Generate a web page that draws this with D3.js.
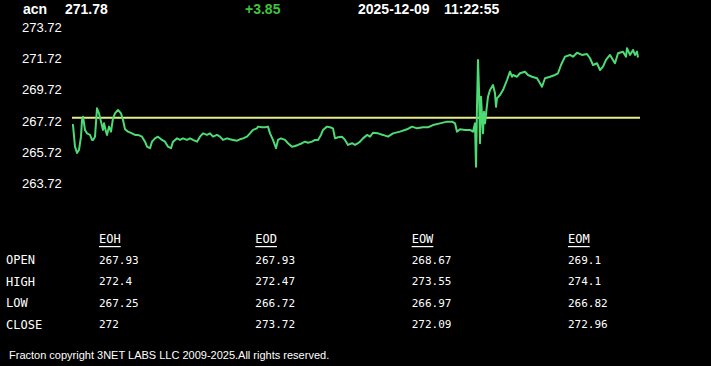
<!DOCTYPE html>
<html>
<head>
<meta charset="utf-8">
<script src="https://cdn.jsdelivr.net/npm/d3@7"></script>
<style>
  html, body { margin: 0; padding: 0; background: #000; }
  svg { display: block; }
</style>
</head>
<body>
<div id="chart"></div>
<script>
// header
var symbol = "acn";
var lastPrice = 271.78;
var change = "+3.85";
var stamp = ["2025-12-09", "11:22:55"];
var prevClose = 267.93;

// y axis tick labels
var yTicks = [273.72, 271.72, 269.72, 267.72, 265.72, 263.72];

// intraday series (sample index, price)
var tIdx = [0, 1, 3, 5, 7, 9, 10, 11, 13, 15, 18, 20, 21, 23, 25, 27, 29, 31, 32, 34, 35, 37, 39, 41,
  43, 46, 49, 51, 53, 56, 60, 63, 66, 70, 73, 75, 78, 80, 83, 86, 90, 93, 96, 99, 101, 105, 108,
  111, 115, 118, 121, 125, 128, 131, 135, 138, 141, 145, 148, 151, 155, 158, 161, 165, 168, 171,
  175, 178, 181, 185, 186, 190, 193, 196, 198, 201, 204, 206, 209, 213, 216, 220, 223, 226, 230,
  233, 236, 240, 243, 246, 249, 251, 255, 258, 261, 263, 266, 270, 273, 276, 280, 283, 286, 288,
  291, 295, 298, 301, 306, 311, 316, 321, 328, 335, 340, 345, 351, 356, 361, 368, 375, 380, 383,
  385, 388, 393, 398, 401, 403, 404, 405, 406, 407, 408, 409, 411, 412, 413, 415, 416, 418, 420,
  421, 423, 424, 425, 428, 431, 435, 438, 440, 441, 445, 448, 453, 456, 460, 465, 468, 470, 473,
  478, 483, 486, 489, 493, 498, 501, 505, 510, 515, 518, 521, 525, 528, 531, 534, 538, 541, 543,
  546, 551, 554, 555, 558, 561, 563, 565, 566];
var price = [267.46, 267.46, 266.08, 265.68, 265.87, 266.72, 267.78, 267.99, 267.15, 266.93, 266.83,
  266.51, 266.51, 266.72, 268.53, 268.21, 267.68, 267.15, 267.57, 267.04, 266.83, 267.36, 267.04,
  267.89, 268.21, 268.42, 268.21, 267.78, 267.19, 267.04, 266.93, 266.83, 266.83, 266.72, 266.40,
  266.08, 265.98, 266.40, 266.61, 266.72, 266.51, 266.40, 266.08, 265.98, 266.40, 266.61, 266.51,
  266.61, 266.51, 266.61, 266.51, 266.40, 266.72, 266.93, 266.83, 266.93, 266.72, 266.83, 266.72,
  266.51, 266.61, 266.55, 266.51, 266.46, 266.55, 266.61, 266.72, 266.93, 267.15, 267.25, 267.36,
  267.32, 267.32, 267.36, 266.93, 266.51, 265.98, 266.51, 266.61, 266.51, 266.30, 266.08, 266.12,
  266.19, 266.30, 266.40, 266.33, 266.40, 266.51, 266.51, 266.83, 267.15, 267.36, 267.32, 267.25,
  266.61, 266.68, 266.72, 266.51, 266.19, 266.30, 266.19, 266.30, 266.40, 266.61, 266.83, 266.72,
  266.97, 266.93, 266.83, 266.72, 266.93, 267.04, 267.19, 267.36, 267.25, 267.32, 267.32, 267.46,
  267.57, 267.68, 267.68, 267.57, 267.04, 267.19, 267.15, 267.15, 267.04, 267.57, 264.80, 268.63,
  271.62, 269.70, 266.30, 269.27, 266.93, 268.31, 267.57, 268.74, 269.27, 269.70, 269.91, 270.02,
  269.49, 268.63, 269.17, 269.38, 269.70, 270.34, 270.87, 270.55, 270.66, 270.55, 270.77, 270.87,
  270.66, 270.55, 270.45, 270.13, 269.91, 270.45, 270.55, 270.66, 270.77, 271.30, 271.83, 271.94,
  271.83, 272.08, 271.94, 272.00, 271.73, 271.30, 271.41, 270.98, 271.19, 271.62, 271.94, 271.62,
  271.41, 272.05, 272.15, 271.83, 272.37, 271.94, 272.26, 271.94, 272.15, 271.78];

// OHLC table
var periods = ["EOH", "EOD", "EOW", "EOM"];
var rowNames = ["OPEN", "HIGH", "LOW", "CLOSE"];
var ohlc = [
  ["267.93", "272.4", "267.25", "272"],
  ["267.93", "272.47", "266.72", "273.72"],
  ["268.67", "273.55", "266.97", "272.09"],
  ["269.1", "274.1", "266.82", "272.96"]
];

var footer = "Fracton copyright 3NET LABS LLC 2009-2025.All rights reserved.";

var svgWidth = 711;
var svgHeight = 366;

var svg = d3.select("#chart").append("svg")
    .attr("width", svgWidth)
    .attr("height", svgHeight)
    .style("background", "#000");

// scales
var x = d3.scaleLinear().domain([0, 568]).range([72, 640]);
var y = d3.scaleLinear().domain([263.72, 273.72]).range([183.6, 27.1]);

var sans = "'Liberation Sans', Arial, sans-serif";
var mono = "'DejaVu Sans Mono', monospace";

// header row
var head = svg.append("g")
    .attr("font-family", sans)
    .attr("font-size", "14px")
    .attr("font-weight", "bold")
    .attr("fill", "#fff");
head.append("text").attr("x", 23).attr("y", 14).text(symbol);
head.append("text").attr("x", 65).attr("y", 14).text(lastPrice.toFixed(2));
head.append("text").attr("x", 245).attr("y", 14).attr("fill", "#3ec43e").text(change);
head.append("text").attr("x", 358).attr("y", 14).text(stamp[0]);
head.append("text").attr("x", 444).attr("y", 14).text(stamp[1]);

// y labels
svg.append("g")
    .attr("font-family", sans)
    .attr("font-size", "13px")
    .attr("fill", "#fff")
  .selectAll("text")
  .data(yTicks)
  .enter()
  .append("text")
    .attr("x", 22)
    .attr("y", d => y(d))
    .attr("dominant-baseline", "central")
    .text(d => d.toFixed(2));

// previous close line
svg.append("line")
    .attr("x1", x(0))
    .attr("x2", x(568))
    .attr("y1", y(prevClose))
    .attr("y2", y(prevClose))
    .attr("stroke", "#e3ee8a")
    .attr("stroke-width", 2);

// price line
var series = tIdx.map((t, i) => ({ t: t, p: price[i] }));
var line = d3.line()
    .x(d => x(d.t))
    .y(d => y(d.p));

svg.append("path")
    .datum(series)
    .attr("d", line)
    .attr("fill", "none")
    .attr("stroke", "#4ddc74")
    .attr("stroke-width", 2)
    .attr("stroke-linejoin", "round");

// table
var colX = d3.scalePoint().domain(periods).range([99, 568]);
var rowY = d3.scalePoint().domain(["hdr"].concat(rowNames)).range([239, 324.5]);

var table = svg.append("g")
    .attr("font-family", mono)
    .attr("fill", "#fff");

table.selectAll(".hdr")
  .data(periods)
  .enter()
  .append("text")
    .attr("class", "hdr")
    .attr("x", d => colX(d))
    .attr("y", rowY("hdr"))
    .attr("dominant-baseline", "central")
    .attr("font-size", "12px")
    .attr("text-decoration", "underline")
    .text(d => d);

table.selectAll(".rowname")
  .data(rowNames)
  .enter()
  .append("text")
    .attr("class", "rowname")
    .attr("x", 6)
    .attr("y", d => rowY(d))
    .attr("dominant-baseline", "central")
    .attr("font-size", "12px")
    .text(d => d);

periods.forEach(function(p, c) {
  table.selectAll(".v" + c)
    .data(ohlc[c])
    .enter()
    .append("text")
      .attr("class", "v" + c)
      .attr("x", colX(p))
      .attr("y", (d, r) => rowY(rowNames[r]))
      .attr("dominant-baseline", "central")
      .attr("font-size", "11px")
      .text(d => d);
});

// footer
svg.append("text")
    .attr("x", 9)
    .attr("y", 359)
    .attr("font-family", sans)
    .attr("font-size", "11px")
    .attr("fill", "#fff")
    .text(footer);
</script>
</body>
</html>
